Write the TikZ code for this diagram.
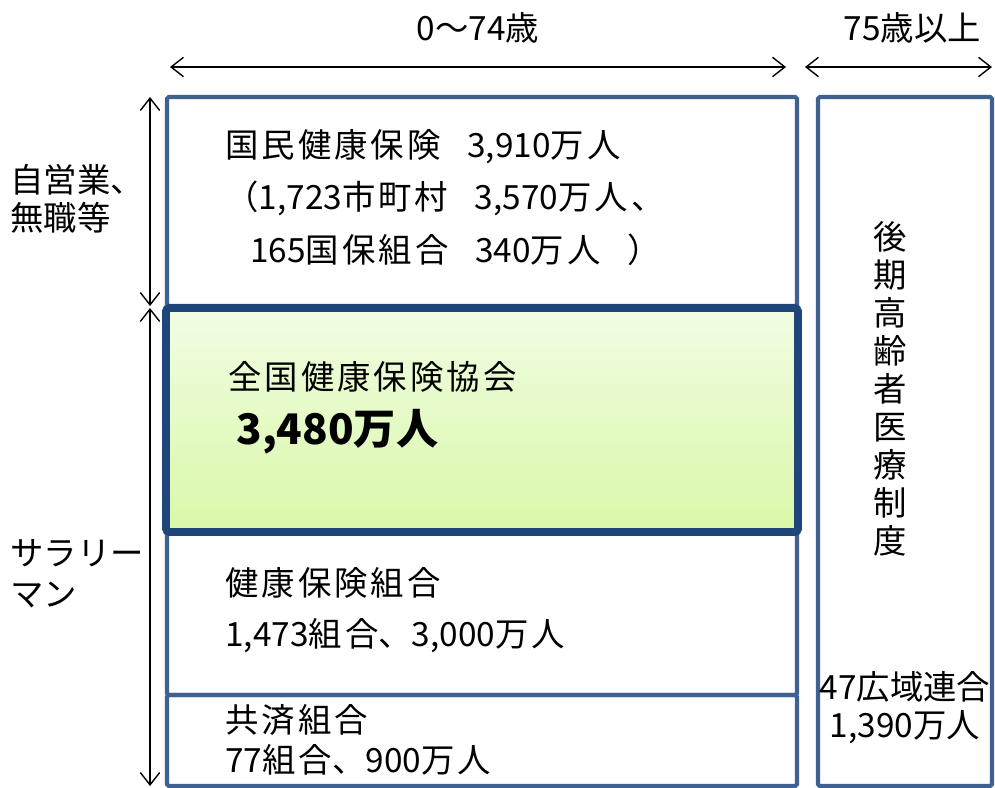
\documentclass[tikz,border=0pt]{standalone}
\usepackage{fontspec}
\setmainfont{Noto Sans CJK JP}
\usetikzlibrary{arrows.meta}
\definecolor{boxline}{HTML}{3E6191}
\definecolor{kyokailine}{HTML}{1F467A}
\definecolor{kyokaitop}{HTML}{F1FDE3}
\definecolor{kyokaibot}{HTML}{D9F8A8}
\newcommand\wide[1]{{\addfontfeature{LetterSpace=9}#1}}
\tikzset{
  txt/.style={anchor=west, inner sep=0pt, font=\fontsize{19}{21}\selectfont},
  span/.style={{Straight Barb[length=7pt,width=11pt]}-{Straight Barb[length=7pt,width=11pt]}, line width=0.8pt},
  plain/.style={draw=boxline, line width=2.3pt, rounded corners=1pt}
}
\begin{document}
\begin{tikzpicture}[x=0.02cm,y=-0.02cm]
            \useasboundingbox (0,0) rectangle (995,788);
            % boxes
            \draw[plain] (167,97) rectangle (797,306);
            \draw[plain] (167,533) rectangle (797,695);
            \draw[plain] (167,695) rectangle (797,786);
            \draw[plain] (818,97) rectangle (992,786);
            \shade[top color=kyokaitop, bottom color=kyokaibot, draw=kyokailine, line width=4.5pt, rounded corners=2pt] (166,308) rectangle (798,532);
            % age arrows
            \coordinate (a1) at (170,67);
            \coordinate (a2) at (786,67);
            \coordinate (b1) at (805,67);
            \coordinate (b2) at (992,67);
            \draw[span] (a1) -- node[above=10pt, font=\fontsize{19}{21}\selectfont] {0〜74歳} (a2);
            \draw[span] (b1) -- node[above=10pt, xshift=14*0.02cm, font=\fontsize{19}{21}\selectfont] {75歳以上} (b2);
            % side arrows
            \coordinate (c1) at (150,97);
            \coordinate (c2) at (150,306);
            \coordinate (c3) at (150,308);
            \coordinate (c4) at (150,786);
            \draw[span] (c1) -- (c2);
            \draw[span] (c3) -- (c4);
            \node[txt] (jiei1) at (10,180) {自営業、};
            \node[txt] (jiei2) at (10,218) {無職等};
            \node[txt] (sala1) at (10,553) {サラリー};
            \node[txt] (sala2) at (10,595) {マン};
            % kokuho
            \node[txt] (k1) at (225,147) {\wide{国民健康保険}\hspace{0.8em}3,910\wide{万人}};
            \node[txt] (k2) at (225,198) {（1,723\wide{市町村}\hspace{0.8em}3,570\wide{万人、}};
            \node[txt] (k3) at (250,250) {165\wide{国保組合}\hspace{0.8em}340\wide{万人}\hspace{0.8em}）};
            % kyokai
            \node[txt] (q1) at (228,377) {\wide{全国健康保険協会}};
            \node[txt, font=\fontsize{24}{26}\selectfont\bfseries] (q2) at (236,432) {3,480万人};
            % kenpo
            \node[txt] (p1) at (225,583) {\wide{健康保険組合}};
            \node[txt] (p2) at (225,636) {1,473\wide{組合}、3,000\wide{万人}};
            % kyosai
            \node[txt] (s1) at (225,720) {\wide{共済組合}};
            \node[txt] (s2) at (225,760) {77\wide{組合}、900\wide{万人}};
            % kouki
            \node[font=\fontsize{19}{21.6}\selectfont, align=center, inner sep=0pt] (r1) at (890,389) {後\\期\\高\\齢\\者\\医\\療\\制\\度};
            \node[txt, anchor=center] (r2) at (905,687) {47広域連合};
            \node[txt, anchor=center] (r3) at (905,727) {1,390万人};
        \end{tikzpicture}
\end{document}
